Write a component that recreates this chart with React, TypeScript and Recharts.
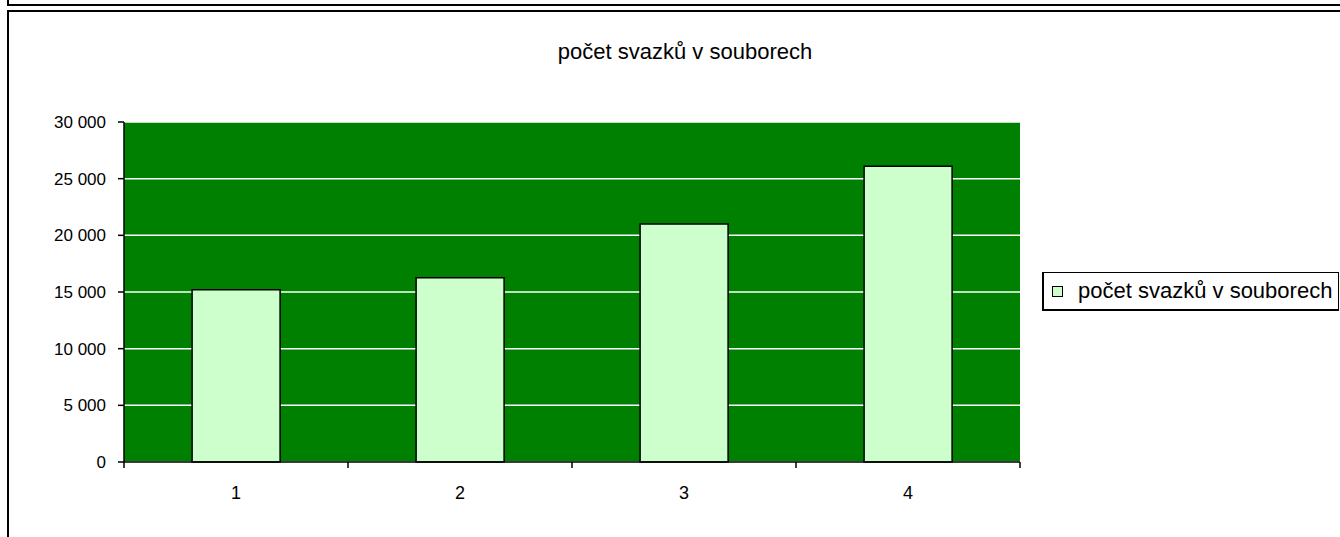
import React from "react";
import {
  Bar,
  BarChart,
  CartesianGrid,
  Legend,
  ReferenceArea,
  XAxis,
  YAxis,
} from "recharts";

const categories = ["1", "2", "3", "4"];
const volumes = [15200, 16250, 21000, 26100];
const yTicks = [0, 5000, 10000, 15000, 20000, 25000, 30000];

const seriesName = "počet svazků v souborech";
const font = '"Liberation Sans", Arial, sans-serif';

const data = categories.map((name, i) => ({ name, value: volumes[i] }));

const X_TICK_SIZE = 6;
const X_TICK_MARGIN = 18;

const formatThousands = (v: number) =>
  String(v).replace(/\B(?=(\d{3})+(?!\d))/g, " ");

// category label in the middle, tick marks on the category edges (Excel style)
function CategoryTick(props: any) {
  const { x, y, payload, index } = props;
  const half = payload.offset ?? 0;
  const axisY = y - X_TICK_SIZE - X_TICK_MARGIN;
  const isLast = index === categories.length - 1;
  return (
    <g>
      <line
        x1={x - half}
        x2={x - half}
        y1={axisY}
        y2={axisY + X_TICK_SIZE}
        stroke="#000"
        strokeWidth={1.5}
      />
      {isLast && (
        <line
          x1={x + half}
          x2={x + half}
          y1={axisY}
          y2={axisY + X_TICK_SIZE}
          stroke="#000"
          strokeWidth={1.5}
        />
      )}
      <text
        x={x}
        y={y}
        dy="0.71em"
        textAnchor="middle"
        fill="#000"
        fontSize={18}
        fontFamily={font}
      >
        {payload.value}
      </text>
    </g>
  );
}

function LegendBox() {
  return (
    <div
      style={{
        display: "flex",
        alignItems: "center",
        height: 39,
        width: 297,
        border: "1px solid #000",
        borderLeftWidth: 2,
        borderBottomWidth: 2,
        boxSizing: "border-box",
        background: "#fff",
        fontFamily: font,
        fontSize: 22,
        color: "#000",
        whiteSpace: "nowrap",
        overflow: "hidden",
      }}
    >
      <span
        style={{
          display: "inline-block",
          flex: "none",
          width: 9,
          height: 9,
          marginLeft: 8,
          marginRight: 15,
          background: "#ccffcc",
          border: "1px solid #000",
        }}
      />
      <span>{seriesName}</span>
    </div>
  );
}

export default function App() {
  return (
    <div
      style={{
        position: "absolute",
        left: 0,
        top: 0,
        width: 1340,
        height: 537,
        overflow: "hidden",
        background: "#fff",
      }}
    >
      {/* frame lines of the sheet */}
      <div
        style={{
          position: "absolute",
          left: 7,
          top: -10,
          width: 1400,
          height: 14,
          borderLeft: "2px solid #000",
          borderBottom: "2px solid #000",
        }}
      />
      <div
        style={{
          position: "absolute",
          left: 7,
          top: 10,
          width: 1400,
          height: 600,
          borderLeft: "2px solid #000",
          borderTop: "2px solid #000",
        }}
      />

      <div
        style={{
          position: "absolute",
          left: 0,
          top: 39,
          width: 1370,
          textAlign: "center",
          fontFamily: font,
          fontSize: 22,
          color: "#000",
        }}
      >
        {seriesName}
      </div>

      <div style={{ position: "absolute", left: 0, top: 0 }}>
        <BarChart
          width={1340}
          height={537}
          data={data}
          margin={{ top: 122, right: 23, bottom: 35, left: 0 }}
          barCategoryGap="30.4%"
        >
          <CartesianGrid
            vertical={false}
            fill="#008000"
            fillOpacity={1}
            stroke="#ffffff"
            strokeWidth={1.5}
          />
          <XAxis
            xAxisId={0}
            type="number"
            domain={[0, 4]}
            height={0}
            hide
          />
          <XAxis
            xAxisId={1}
            dataKey="name"
            height={40}
            axisLine={{ stroke: "#000", strokeWidth: 1.5 }}
            tickLine={false}
            tickSize={X_TICK_SIZE}
            tickMargin={X_TICK_MARGIN}
            interval={0}
            tick={<CategoryTick />}
          />
          <YAxis
            width={124}
            domain={[0, 30000]}
            ticks={yTicks}
            interval={0}
            tickFormatter={formatThousands}
            axisLine={{ stroke: "#000", strokeWidth: 1.5 }}
            tickLine={{ stroke: "#000", strokeWidth: 1.5 }}
            tickSize={6}
            tickMargin={12}
            tick={{ fill: "#000", fontSize: 17, fontFamily: font }}
          />
          <ReferenceArea
            xAxisId={0}
            x1={0}
            x2={4}
            y1={0}
            y2={30000}
            fill="none"
            stroke="#8c8c8c"
            strokeWidth={1.5}
          />
          <Legend
            layout="horizontal"
            verticalAlign="middle"
            align="right"
            wrapperStyle={{ left: 1042, top: 272, width: 297 }}
            content={() => <LegendBox />}
          />
          <Bar
            xAxisId={1}
            dataKey="value"
            name={seriesName}
            fill="#ccffcc"
            stroke="#000"
            strokeWidth={1.5}
            isAnimationActive={false}
          />
        </BarChart>
      </div>
    </div>
  );
}
